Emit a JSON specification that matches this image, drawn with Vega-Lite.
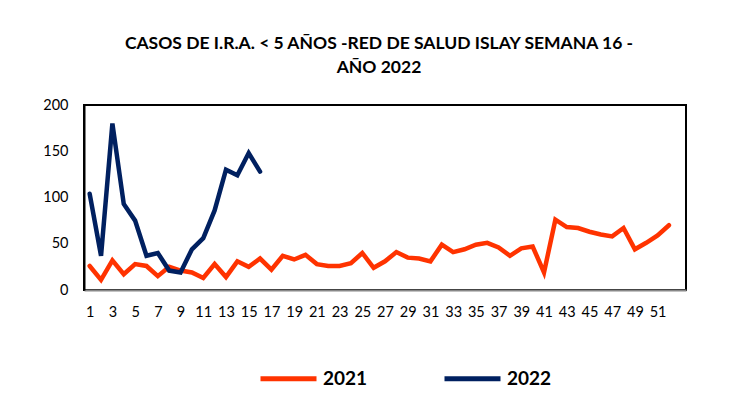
{
  "$schema": "https://vega.github.io/schema/vega-lite/v6.json",
  "width": 602,
  "height": 185,
  "autosize": {"type": "none"},
  "padding": {"left": 84, "top": 105, "right": 43, "bottom": 118},
  "background": "white",
  "title": {
    "text": ["CASOS DE I.R.A. < 5 AÑOS -RED DE SALUD ISLAY SEMANA 16 -", "AÑO 2022"],
    "font": "Lato",
    "fontSize": 17.5,
    "fontWeight": "bold",
    "color": "#000000",
    "anchor": "middle",
    "lineHeight": 24,
    "offset": 21,
    "dx": -6
  },
  "data": {
    "values": [
      {"week": 1, "year": "2021", "cases": 26},
      {"week": 2, "year": "2021", "cases": 11},
      {"week": 3, "year": "2021", "cases": 32},
      {"week": 4, "year": "2021", "cases": 17},
      {"week": 5, "year": "2021", "cases": 28},
      {"week": 6, "year": "2021", "cases": 26},
      {"week": 7, "year": "2021", "cases": 15},
      {"week": 8, "year": "2021", "cases": 25},
      {"week": 9, "year": "2021", "cases": 21},
      {"week": 10, "year": "2021", "cases": 19},
      {"week": 11, "year": "2021", "cases": 13},
      {"week": 12, "year": "2021", "cases": 28},
      {"week": 13, "year": "2021", "cases": 14},
      {"week": 14, "year": "2021", "cases": 31},
      {"week": 15, "year": "2021", "cases": 25},
      {"week": 16, "year": "2021", "cases": 34},
      {"week": 17, "year": "2021", "cases": 22},
      {"week": 18, "year": "2021", "cases": 37},
      {"week": 19, "year": "2021", "cases": 33},
      {"week": 20, "year": "2021", "cases": 38},
      {"week": 21, "year": "2021", "cases": 28},
      {"week": 22, "year": "2021", "cases": 26},
      {"week": 23, "year": "2021", "cases": 26},
      {"week": 24, "year": "2021", "cases": 29},
      {"week": 25, "year": "2021", "cases": 40},
      {"week": 26, "year": "2021", "cases": 24},
      {"week": 27, "year": "2021", "cases": 31},
      {"week": 28, "year": "2021", "cases": 41},
      {"week": 29, "year": "2021", "cases": 35},
      {"week": 30, "year": "2021", "cases": 34},
      {"week": 31, "year": "2021", "cases": 31},
      {"week": 32, "year": "2021", "cases": 49},
      {"week": 33, "year": "2021", "cases": 41},
      {"week": 34, "year": "2021", "cases": 44},
      {"week": 35, "year": "2021", "cases": 49},
      {"week": 36, "year": "2021", "cases": 51},
      {"week": 37, "year": "2021", "cases": 46},
      {"week": 38, "year": "2021", "cases": 37},
      {"week": 39, "year": "2021", "cases": 45},
      {"week": 40, "year": "2021", "cases": 47},
      {"week": 41, "year": "2021", "cases": 19},
      {"week": 42, "year": "2021", "cases": 76},
      {"week": 43, "year": "2021", "cases": 68},
      {"week": 44, "year": "2021", "cases": 67},
      {"week": 45, "year": "2021", "cases": 63},
      {"week": 46, "year": "2021", "cases": 60},
      {"week": 47, "year": "2021", "cases": 58},
      {"week": 48, "year": "2021", "cases": 67},
      {"week": 49, "year": "2021", "cases": 44},
      {"week": 50, "year": "2021", "cases": 51},
      {"week": 51, "year": "2021", "cases": 59},
      {"week": 52, "year": "2021", "cases": 70},
      {"week": 1, "year": "2022", "cases": 104},
      {"week": 2, "year": "2022", "cases": 37},
      {"week": 3, "year": "2022", "cases": 180},
      {"week": 4, "year": "2022", "cases": 93},
      {"week": 5, "year": "2022", "cases": 75},
      {"week": 6, "year": "2022", "cases": 37},
      {"week": 7, "year": "2022", "cases": 40},
      {"week": 8, "year": "2022", "cases": 21},
      {"week": 9, "year": "2022", "cases": 19},
      {"week": 10, "year": "2022", "cases": 44},
      {"week": 11, "year": "2022", "cases": 56},
      {"week": 12, "year": "2022", "cases": 86},
      {"week": 13, "year": "2022", "cases": 130},
      {"week": 14, "year": "2022", "cases": 124},
      {"week": 15, "year": "2022", "cases": 148},
      {"week": 16, "year": "2022", "cases": 128}
    ]
  },
  "mark": {"type": "line", "strokeWidth": 4.5, "strokeJoin": "miter", "strokeCap": "round"},
  "encoding": {
    "x": {
      "field": "week",
      "type": "quantitative",
      "scale": {"domain": [0.5, 53.5], "nice": false, "zero": false},
      "axis": {
        "title": null,
        "values": [1, 3, 5, 7, 9, 11, 13, 15, 17, 19, 21, 23, 25, 27, 29, 31, 33, 35, 37, 39, 41, 43, 45, 47, 49, 51],
        "grid": false,
        "ticks": false,
        "labelPadding": 15,
        "labelFont": "Lato",
        "labelFontSize": 14.5,
        "labelColor": "#000000",
        "labelFlush": false,
        "labelOverlap": false,
        "domainColor": "#888888",
        "domainWidth": 2
      }
    },
    "y": {
      "field": "cases",
      "type": "quantitative",
      "scale": {"domain": [0, 200], "nice": false},
      "axis": {
        "title": null,
        "values": [0, 50, 100, 150, 200],
        "grid": false,
        "ticks": false,
        "labelPadding": 16,
        "labelFont": "Lato",
        "labelFontSize": 14.5,
        "labelColor": "#000000",
        "domainColor": "#000000",
        "domainWidth": 2
      }
    },
    "color": {
      "field": "year",
      "type": "nominal",
      "scale": {"domain": ["2021", "2022"], "range": ["#FF3300", "#002060"]},
      "legend": {
        "title": null,
        "orient": "none",
        "direction": "horizontal",
        "legendX": 174,
        "legendY": 243,
        "symbolType": "stroke",
        "symbolSize": 3136,
        "symbolStrokeWidth": 5,
        "labelFont": "Lato",
        "labelFontSize": 19,
        "labelFontWeight": "bold",
        "labelColor": "#000000",
        "labelOffset": 4,
        "columnPadding": 66
      }
    }
  },
  "config": {
    "view": {"stroke": "#000000", "strokeWidth": 2}
  }
}
